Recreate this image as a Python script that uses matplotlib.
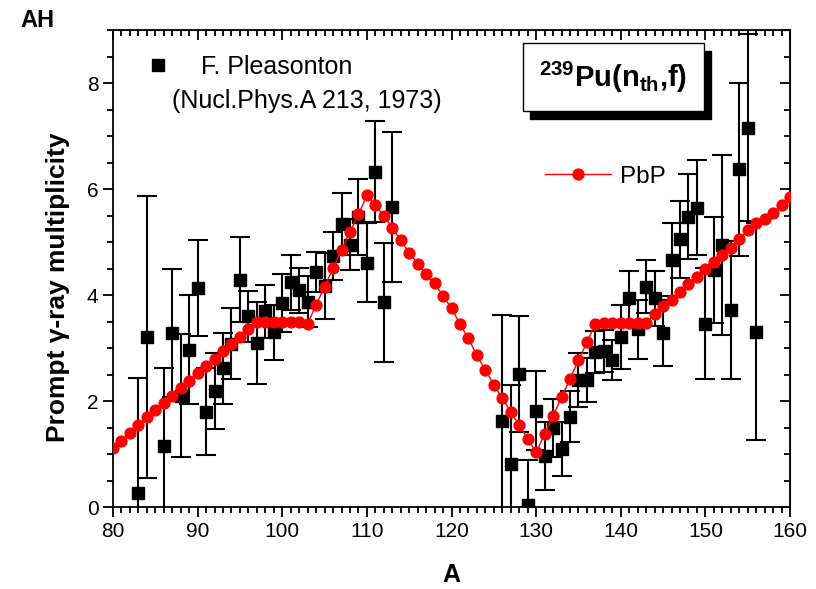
import numpy as np
import matplotlib
matplotlib.use('Agg')
import matplotlib.pyplot as plt
from matplotlib.ticker import MultipleLocator
from matplotlib.patches import Rectangle

plt.rcParams['font.family'] = ['Liberation Sans', 'DejaVu Sans']
plt.rcParams['mathtext.fontset'] = 'custom'
plt.rcParams['mathtext.rm'] = 'Liberation Sans:bold'
plt.rcParams['mathtext.it'] = 'Liberation Sans:bold'
plt.rcParams['mathtext.bf'] = 'Liberation Sans:bold'

# PbP model, A = 80..160
pbp_A = np.arange(80, 161)
pbp_mult = [1.11, 1.25, 1.39, 1.54, 1.69, 1.83, 1.97, 2.10, 2.24, 2.38,
            2.53, 2.67, 2.80, 2.94, 3.08, 3.21, 3.35, 3.49, 3.49, 3.49,
            3.49, 3.49, 3.49, 3.46, 3.82, 4.15, 4.51, 4.85, 5.19, 5.52,
            5.88, 5.69, 5.50, 5.27, 5.03, 4.80, 4.59, 4.39, 4.22, 3.98,
            3.75, 3.45, 3.18, 2.86, 2.58, 2.31, 2.05, 1.80, 1.54, 1.29,
            1.03, 1.38, 1.72, 2.07, 2.42, 2.77, 3.11, 3.46, 3.48, 3.48,
            3.48, 3.48, 3.48, 3.48, 3.65, 3.79, 3.91, 4.05, 4.20, 4.34,
            4.49, 4.63, 4.76, 4.89, 5.06, 5.22, 5.35, 5.43, 5.55, 5.70,
            5.85]

# Pleasonton data
exp_A = [83, 84, 86, 87, 88, 89, 90, 91, 92, 93, 94, 95, 96, 97, 98, 99,
         100, 101, 102, 103, 104, 105, 106, 107, 108, 109, 110, 111, 112, 113,
         126, 127, 128, 129, 130, 131, 132, 133, 134, 135, 136, 137, 138, 139,
         140, 141, 142, 143, 144, 145, 146, 147, 148, 149, 150, 151, 152, 153,
         154, 155, 156]
exp_mult = [0.27, 3.20, 1.15, 3.28, 2.10, 2.97, 4.13, 1.80, 2.19, 2.62, 3.08,
            4.29, 3.60, 3.09, 3.69, 3.30, 3.85, 4.24, 4.09, 3.87, 4.43, 4.17,
            4.74, 5.34, 4.95, 5.47, 4.61, 6.33, 3.86, 5.66,
            1.63, 0.81, 2.51, 0.03, 1.82, 0.96, 1.49, 1.10, 1.70, 2.40, 2.40,
            2.92, 2.94, 2.78, 3.21, 3.95, 3.35, 4.16, 3.94, 3.28, 4.67, 5.05,
            5.48, 5.65, 3.46, 4.48, 4.95, 3.71, 6.37, 7.16, 3.31]
exp_err = [2.17, 2.66, 1.48, 1.21, 1.16, 1.03, 0.90, 0.82, 0.72, 0.67, 0.67,
           0.80, 0.48, 0.77, 0.50, 0.52, 0.54, 0.52, 0.42, 0.48, 0.38, 0.62,
           0.45, 0.58, 0.48, 0.71, 0.74, 0.96, 1.12, 1.41,
           2.00, 1.50, 1.10, 0.86, 0.74, 0.64, 0.54, 0.51, 0.48, 0.51, 0.42,
           0.40, 0.40, 0.38, 0.60, 0.50, 0.55, 0.50, 0.52, 0.62, 0.69, 0.72,
           0.80, 0.90, 1.05, 1.00, 1.70, 1.30, 1.64, 1.77, 2.04]

fig = plt.figure(figsize=(8.16, 5.89), dpi=100)
ax = fig.add_axes([0.1385, 0.1392, 0.8297, 0.8098])

eb = ax.errorbar(exp_A, exp_mult, yerr=exp_err, fmt='s', color='black', ms=8,
                 elinewidth=1.5, capsize=7, capthick=1.5, zorder=2)
line, = ax.plot(pbp_A, pbp_mult, '-', color='red', lw=1, marker='o',
                ms=7.8, mec='red', mfc='red', zorder=3)

ax.set_xlim(80, 160)
ax.set_ylim(0, 9)
ax.xaxis.set_major_locator(MultipleLocator(10))
ax.xaxis.set_minor_locator(MultipleLocator(1))
ax.yaxis.set_major_locator(MultipleLocator(2))
ax.yaxis.set_minor_locator(MultipleLocator(0.5))
ax.tick_params(which='both', direction='out', width=1.3, labelsize=15,
               top=False, right=False)
ax.tick_params(which='major', length=7)
ax.tick_params(which='minor', length=4)
for s in ax.spines.values():
    s.set_linewidth(1.3)

# top / right axes with inward ticks
secx = ax.secondary_xaxis('top')
secx.xaxis.set_major_locator(MultipleLocator(10))
secx.xaxis.set_minor_locator(MultipleLocator(1))
secx.tick_params(which='both', direction='in', width=1.3, labeltop=False)
secx.tick_params(which='major', length=7)
secx.tick_params(which='minor', length=4)
secy = ax.secondary_yaxis('right')
secy.yaxis.set_major_locator(MultipleLocator(2))
secy.yaxis.set_minor_locator(MultipleLocator(0.5))
secy.tick_params(which='both', direction='in', width=1.3, labelright=False)
secy.tick_params(which='major', length=7)
secy.tick_params(which='minor', length=4)

ax.set_xlabel('A', fontsize=18, fontweight='bold', labelpad=16)
ax.set_ylabel('Prompt \u03b3-ray multiplicity', fontsize=19, fontweight='bold')
ax.yaxis.set_label_coords(-0.063, 0.461)

# legends
leg1 = ax.legend([eb[0]], ['F. Pleasonton'], loc='center left',
                 bbox_to_anchor=(0.045, 0.922), frameon=False, fontsize=18,
                 handlelength=1.2, handletextpad=1.1, borderpad=0, borderaxespad=0)
ax.add_artist(leg1)
ax.text(0.087, 0.851, '(Nucl.Phys.A 213, 1973)', transform=ax.transAxes,
        fontsize=18, va='center', ha='left')
ax.legend([line], ['PbP'], loc='center left', bbox_to_anchor=(0.638, 0.692),
          frameon=False, fontsize=17.5, handlelength=2.7, handletextpad=0.4,
          borderpad=0, borderaxespad=0)

# reaction label box with shadow
ax.add_patch(Rectangle((0.616, 0.813), 0.267, 0.143, transform=ax.transAxes,
                       facecolor='black', edgecolor='black', zorder=5, clip_on=False))
ax.add_patch(Rectangle((0.606, 0.830), 0.267, 0.143, transform=ax.transAxes,
                       facecolor='white', edgecolor='black', lw=1, zorder=6,
                       clip_on=False))
ax.text(0.739, 0.9, r'$^{239}$Pu(n$_{th}$,f)', transform=ax.transAxes,
        fontsize=21, fontweight='bold', ha='center', va='center', zorder=7)

fig.text(0.025, 0.965, 'AH', fontsize=17, fontweight='bold', ha='left', va='center')

fig.savefig('out.png', dpi=100)
